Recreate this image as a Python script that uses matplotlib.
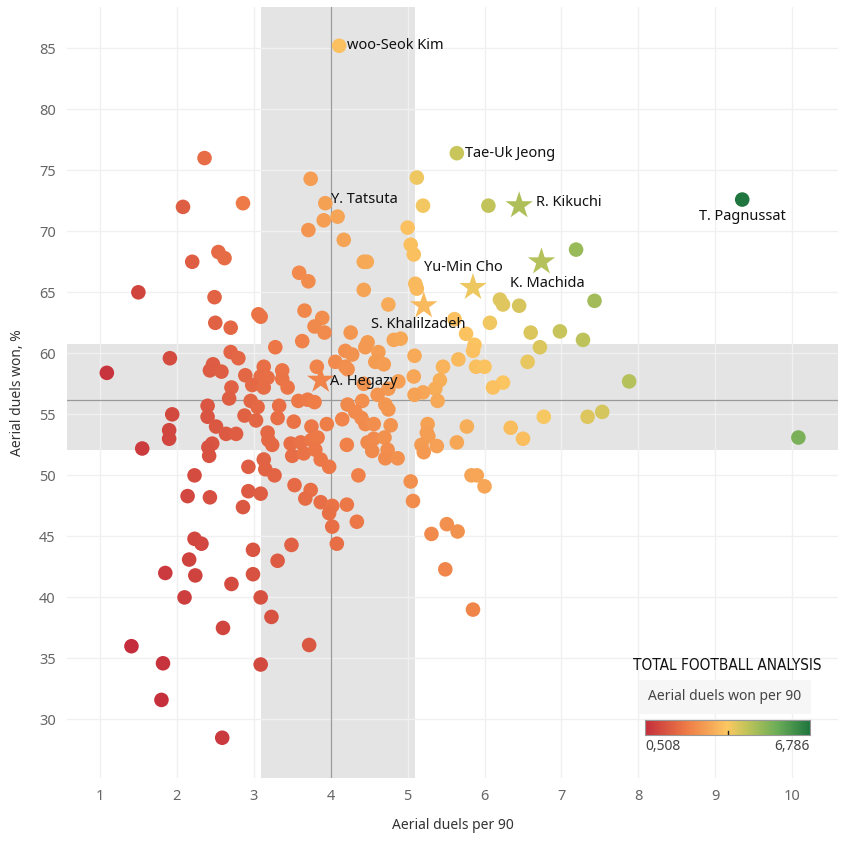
import numpy as np
import matplotlib
matplotlib.use("Agg")
import matplotlib.pyplot as plt
from matplotlib.colors import LinearSegmentedColormap, Normalize

# aerial duels per 90 / aerial duels won %
duels_p90 = [
    4.11, 5.64, 2.36, 3.74, 5.12, 2.08, 2.86, 3.93, 5.20, 6.05, 9.35, 4.09, 3.91, 3.71, 5.00,
    4.17, 5.04, 7.19, 5.08, 2.54, 2.62, 2.20, 4.43, 4.47, 3.59, 3.71, 5.10, 5.12, 4.43, 1.50,
    2.49, 6.20, 6.24, 7.43, 6.45, 4.75, 3.66, 3.06, 3.09, 5.61, 3.89, 3.79, 3.92, 2.50, 2.70,
    6.07, 4.26, 5.76, 6.60, 6.98, 7.28, 3.63, 4.48, 4.45, 4.82, 4.91, 3.28, 6.72, 5.87, 5.85,
    4.19, 4.28, 4.62, 2.70, 2.80, 1.91, 5.09, 5.66, 4.06, 6.56, 4.58, 4.69, 4.19, 4.22, 5.46,
    5.89, 6.00, 3.82, 2.47, 2.43, 2.58, 3.13, 3.37, 1.09, 2.89, 3.09, 3.18, 5.08, 5.42, 3.37,
    6.24, 6.11, 7.88, 4.88, 4.43, 2.98, 3.13, 3.44, 2.71, 5.36, 4.75, 5.20, 5.09, 4.61, 5.39,
    2.68, 2.96, 3.58, 3.70, 3.79, 4.22, 4.41, 4.71, 4.75, 3.05, 2.40, 3.33, 2.40, 1.94, 2.88,
    3.03, 3.31, 1.90, 1.90, 2.51, 2.64, 2.77, 2.46, 2.41, 2.42, 1.55, 3.18, 3.19, 3.24, 3.52,
    3.75, 3.95, 3.48, 3.61, 3.50, 3.65, 3.75, 3.83, 3.80, 3.87, 3.98, 4.15, 4.32, 4.40, 4.45,
    4.56, 4.78, 4.21, 4.48, 4.56, 4.54, 4.70, 4.74, 4.71, 4.87, 5.26, 5.25, 5.27, 5.18, 5.21,
    5.38, 5.64, 5.77, 6.34, 6.50, 6.77, 7.34, 7.53, 10.08, 2.93, 3.13, 3.15, 3.27, 2.23, 2.14,
    2.43, 2.93, 3.09, 2.86, 3.53, 3.74, 3.67, 3.87, 4.02, 3.98, 4.02, 4.21, 4.34, 4.08, 4.36,
    5.04, 5.07, 5.83, 5.90, 6.00, 5.51, 5.31, 5.65, 5.49, 5.85, 2.23, 2.32, 3.49, 2.99, 3.31,
    2.16, 1.85, 2.24, 2.99, 2.71, 2.10, 3.09, 3.23, 2.60, 1.41, 3.72, 1.82, 3.09, 1.80, 2.59,
]
won_pct = [
    85.2, 76.4, 76.0, 74.3, 74.4, 72.0, 72.3, 72.3, 72.1, 72.1, 72.6, 71.2, 70.9, 70.1, 70.3,
    69.3, 68.9, 68.5, 68.1, 68.3, 67.8, 67.5, 67.5, 67.5, 66.6, 65.9, 65.7, 65.3, 65.2, 65.0,
    64.6, 64.4, 64.0, 64.3, 63.9, 64.0, 63.5, 63.2, 63.0, 62.8, 62.9, 62.2, 61.7, 62.5, 62.1,
    62.5, 61.7, 61.6, 61.7, 61.8, 61.1, 61.0, 60.9, 60.5, 61.1, 61.2, 60.5, 60.5, 60.7, 60.2,
    60.2, 59.9, 60.1, 60.1, 59.6, 59.6, 59.8, 59.5, 59.3, 59.3, 59.3, 59.1, 58.9, 58.7, 58.9,
    58.9, 58.9, 58.9, 59.1, 58.6, 58.5, 58.9, 58.6, 58.4, 58.2, 58.1, 58.0, 58.1, 57.8, 57.9,
    57.6, 57.2, 57.7, 57.7, 57.5, 57.4, 57.2, 57.2, 57.2, 57.1, 57.1, 56.8, 56.6, 56.6, 56.1,
    56.3, 56.1, 56.1, 56.2, 56.0, 55.8, 56.1, 55.8, 55.4, 55.6, 55.7, 55.7, 54.8, 55.0, 54.9,
    54.5, 54.7, 53.7, 53.0, 54.0, 53.4, 53.4, 52.6, 52.3, 51.6, 52.2, 53.5, 52.9, 52.5, 54.4,
    54.0, 54.2, 52.6, 52.7, 51.6, 51.8, 52.9, 53.1, 52.1, 51.3, 50.7, 54.6, 55.2, 54.7, 54.2,
    54.2, 54.1, 52.5, 52.7, 53.0, 52.0, 53.1, 52.1, 51.4, 51.4, 54.2, 53.5, 53.2, 52.5, 51.9,
    52.4, 52.7, 54.0, 53.9, 53.0, 54.8, 54.8, 55.2, 53.1, 50.7, 51.3, 50.5, 50.0, 50.0, 48.3,
    48.2, 48.7, 48.5, 47.4, 49.2, 48.8, 48.1, 47.8, 47.5, 46.9, 45.8, 47.6, 46.2, 44.4, 50.0,
    49.5, 47.9, 50.0, 50.0, 49.1, 46.0, 45.2, 45.4, 42.3, 39.0, 44.8, 44.4, 44.3, 43.9, 43.0,
    43.1, 42.0, 41.8, 41.9, 41.1, 40.0, 40.0, 38.4, 37.5, 36.0, 36.1, 34.6, 34.5, 31.6, 28.5,
]

# highlighted players (stars)
star_names = ["R. Kikuchi", "K. Machida", "Yu-Min Cho", "S. Khalilzadeh", "A. Hegazy"]
star_x = [6.45, 6.74, 5.85, 5.21, 3.87]
star_y = [72.1, 67.5, 65.4, 63.9, 57.8]

# labelled circles
lab_names = ["woo-Seok Kim", "Tae-Uk Jeong", "Y. Tatsuta", "T. Pagnussat"]
lab_x = [4.11, 5.64, 3.93, 9.35]
lab_y = [85.2, 76.4, 72.3, 72.6]

band_x = (3.09, 5.10)
band_y = (52.05, 60.8)
avg_x, avg_y = 4.0, 56.15
c_min, c_max = 0.508, 6.786

plt.rcParams['font.family'] = ['Noto Sans', 'DejaVu Sans']

cmap = LinearSegmentedColormap.from_list("rdylgn_tab", [
    (0.0, "#c42e3c"), (0.25, "#ee7b47"), (0.5, "#fcc862"),
    (0.62, "#c0c45a"), (0.8, "#6dae58"), (1.0, "#1f763f")])
norm = Normalize(c_min, c_max)

fig = plt.figure(figsize=(8.46, 8.42), dpi=100)
ax = fig.add_axes([0.079, 0.076, 0.912, 0.916])

ax.axvspan(*band_x, color="#e4e4e4", lw=0, zorder=0)
ax.axhspan(*band_y, color="#e4e4e4", lw=0, zorder=0)
for xv in range(1, 11):
    ax.axvline(xv, color="#f0f0f0", lw=1, zorder=0.5)
for yv in range(30, 90, 5):
    ax.axhline(yv, color="#f0f0f0", lw=1, zorder=0.5)
ax.axvline(avg_x, color="#9a9a9a", lw=0.9, zorder=0.8)
ax.axhline(avg_y, color="#9a9a9a", lw=0.9, zorder=0.8)

x = np.array(duels_p90)
y = np.array(won_pct)
ax.scatter(x, y, c=x * y / 100, cmap=cmap, norm=norm, s=110, lw=0, zorder=3)
sx, sy = np.array(star_x), np.array(star_y)
ax.scatter(sx, sy, c=sx * sy / 100, cmap=cmap, norm=norm, s=430, marker="*", lw=0, zorder=4)

lab_font = dict(fontsize=10.5, color="#111111", zorder=5)
offsets = {
    "woo-Seok Kim": ((6, 0), "left", "center"),
    "Tae-Uk Jeong": ((6, 0), "left", "center"),
    "Y. Tatsuta": ((4, 3), "left", "center"),
    "T. Pagnussat": ((0, -7), "center", "top"),
    "R. Kikuchi": ((12, 2), "left", "center"),
    "K. Machida": ((-23, -10), "left", "top"),
    "Yu-Min Cho": ((-7, 9), "center", "bottom"),
    "S. Khalilzadeh": ((-4, -8), "center", "top"),
    "A. Hegazy": ((7, -1), "left", "center"),
}
for n, px, py in zip(lab_names + star_names, lab_x + star_x, lab_y + star_y):
    off, ha, va = offsets[n]
    ax.annotate(n, (px, py), xytext=off, textcoords="offset points", ha=ha, va=va, **lab_font)

ax.set_xlim(0.57, 10.6)
ax.set_ylim(25.2, 88.4)
ax.set_xticks(range(1, 11))
ax.set_yticks(range(30, 90, 5))
ax.tick_params(length=0, labelsize=10.5, colors="#666666", pad=8)
for s in ax.spines.values():
    s.set_visible(False)
ax.set_xlabel("Aerial duels per 90", fontsize=10, color="#333333", labelpad=10)
ax.set_ylabel("Aerial duels won, %", fontsize=10, color="#333333", labelpad=10)

# logo + colour legend
fig.text(727 / 846, 1 - 665 / 842, "TOTAL FOOTBALL ANALYSIS", ha="center", va="center",
         fontsize=11, family=["DejaVu Sans"], fontstretch="condensed", color="#111111")
fig.text(725 / 846, 1 - 697 / 842, "Aerial duels won per 90", ha="center", va="center",
         fontsize=10, color="#444444",
         bbox=dict(boxstyle="square,pad=0.7", fc="#f6f6f6", ec="none"))
cax = fig.add_axes([645 / 846, 1 - 735 / 842, 165 / 846, 15 / 842])
cax.imshow(np.linspace(0, 1, 256)[None, :], aspect="auto", cmap=cmap, extent=(0, 1, 0, 1))
cax.plot([0.5, 0.5], [0, 0.25], color="#222222", lw=1)
cax.set_xticks([])
cax.set_yticks([])
for s in cax.spines.values():
    s.set_color("#999999")
fig.text(645 / 846, 1 - 747 / 842, "0,508", ha="left", va="center", fontsize=10, color="#444444")
fig.text(810 / 846, 1 - 747 / 842, "6,786", ha="right", va="center", fontsize=10, color="#444444")

fig.savefig("out.png", dpi=100)
